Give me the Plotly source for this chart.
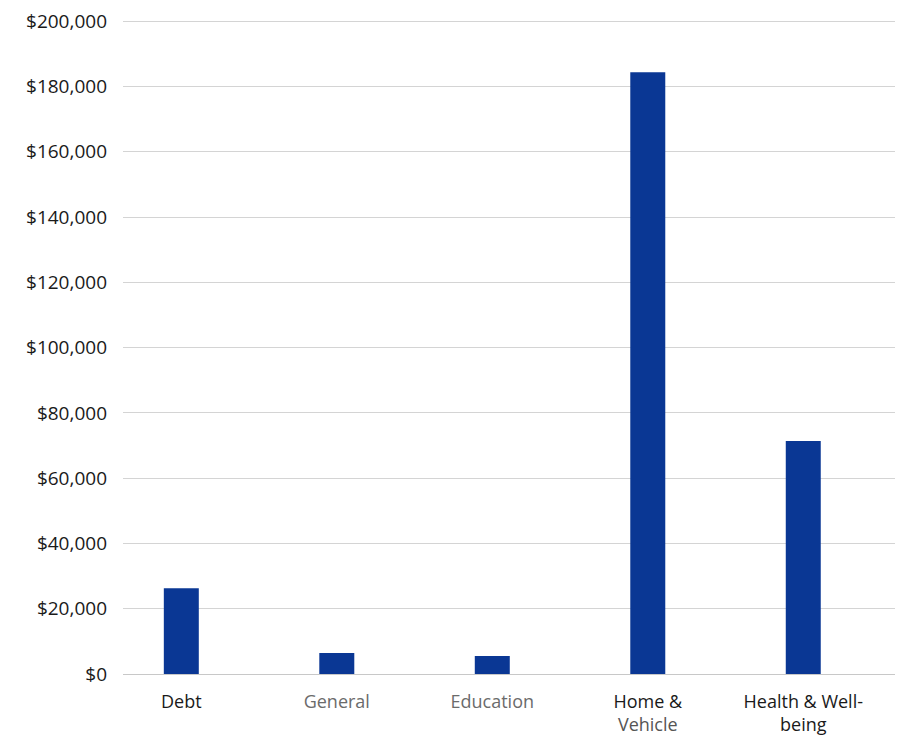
import plotly.graph_objects as go

categories = ["Debt", "General", "Education", "Home & Vehicle", "Health & Well-being"]
tick_labels = [
    "<span style='color:#1a1a1a'>Debt</span>",
    "<span style='color:#6b6b6b'>General</span>",
    "<span style='color:#6b6b6b'>Education</span>",
    "<span style='color:#1a1a1a'>Home &amp;</span><br><span style='color:#555555'>Vehicle</span>",
    "<span style='color:#1a1a1a'>Health &amp; Well-</span><br><span style='color:#1a1a1a'>being</span>",
]
values = [26300, 6400, 5500, 184400, 71400]
y_ticks = list(range(0, 200001, 20000))
y_tick_labels = ["$0" if v == 0 else "${:,}".format(v) for v in y_ticks]

fig = go.Figure()
fig.add_trace(go.Bar(
    x=list(range(len(categories))),
    y=values,
    width=0.225,
    marker=dict(color="#0a3794", line=dict(width=0)),
    hovertext=categories,
))

fig.update_layout(
    width=897, height=748,
    margin=dict(l=123, r=2, t=20, b=74),
    paper_bgcolor="white", plot_bgcolor="white",
    showlegend=False,
    font=dict(family="Open Sans, Liberation Sans, Arial", size=18, color="#1a1a1a"),
    xaxis=dict(
        tickmode="array",
        tickvals=list(range(len(categories))),
        ticktext=tick_labels,
        range=[-0.375, 4.59],
        showgrid=False, zeroline=False,
        showline=False, ticks="",
        ticklabelstandoff=15,
        tickfont=dict(size=18, family="Open Sans, Liberation Sans, Arial"),
    ),
    yaxis=dict(
        range=[0, 200400],
        tickmode="array",
        tickvals=y_ticks,
        ticktext=y_tick_labels,
        showgrid=True, gridcolor="#d4d4d4", gridwidth=1,
        zeroline=True, zerolinecolor="#c8c8c8", zerolinewidth=1,
        ticks="", ticklabelstandoff=15,
        tickfont=dict(size=19, family="Open Sans, Liberation Sans, Arial", color="#1a1a1a"),
    ),
)

fig.write_html("out.html")
